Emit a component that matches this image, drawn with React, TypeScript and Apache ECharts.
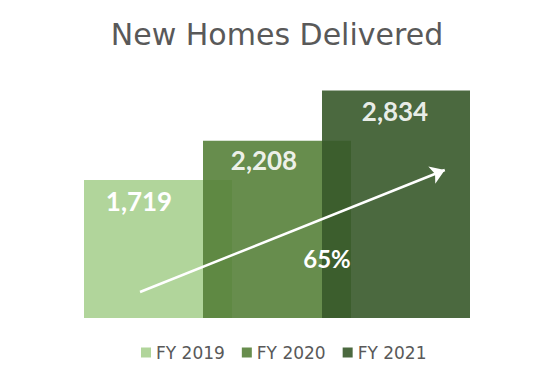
import React, { useEffect, useRef } from "react";
import * as echarts from "echarts";

const categories = ["FY 2019", "FY 2020", "FY 2021"];
const values = [1719, 2208, 2834];
const barColors = ["#b1d59b", "#56813a", "#37592a"];
const barOpacity = [1, 0.9, 0.9];
const labelOffsets = [[-19, 3], [-13, 1], [-1, 2]];
// arrow annotation in data space: [x index, value]
const arrowStart = [-0.151, 324];
const arrowEnd = [2.41, 1844];
const growthLabel = "65%";
const growthPos = [1.42, 740];

export default function App() {
  const ref = useRef<HTMLDivElement>(null);
  useEffect(() => {
    document.body.style.margin = "0";
    if (!ref.current) return;
    const chart = echarts.init(ref.current, null, { renderer: "svg" });
    const barSeries = categories.map((name, i) => ({
      name,
      type: "bar",
      xAxisIndex: 0,
      barWidth: 148,
      barGap: "-100%",
      clip: false,
      data: categories.map((_, j) => (j === i ? values[i] : null)),
      itemStyle: { color: barColors[i], opacity: barOpacity[i] },
      label: {
        show: true,
        position: "insideTop",
        offset: labelOffsets[i],
        color: "#ffffff",
        fontSize: 26,
        fontWeight: "bold",
        fontFamily: "Lato",
        formatter: (p: any) => Number(p.value).toLocaleString("en-US"),
      },
    }));
    chart.setOption({
      animation: false,
      title: {
        text: "New Homes Delivered",
        left: "center",
        top: 14,
        textStyle: { fontSize: 30, fontWeight: "normal", fontFamily: "DejaVu Sans", color: "#595959" },
      },
      legend: {
        data: categories,
        bottom: 23,
        left: 136,
        icon: "rect",
        itemWidth: 10,
        itemHeight: 10,
        itemGap: 17,
        textStyle: { fontSize: 17, fontFamily: "DejaVu Sans", color: "#595959" },
      },
      grid: { left: 98.5, width: 357, top: 77.2, bottom: 71 },
      xAxis: [
        { type: "category", data: categories, show: false },
        { type: "value", min: -0.5, max: 2.5, show: false },
      ],
      yAxis: { type: "value", min: 0, max: 3000, show: false },
      series: [
        ...barSeries,
        {
          type: "line",
          xAxisIndex: 1,
          data: [arrowStart],
          symbol: "none",
          lineStyle: { opacity: 0 },
          silent: true,
          markLine: {
            silent: true,
            symbolSize: [14, 14],
            lineStyle: { color: "#ffffff", width: 2.5, type: "solid" },
            label: { show: false },
            data: [[
              { coord: arrowStart, symbol: "none" },
              { coord: arrowEnd, symbol: "arrow" },
            ]],
          },
          markPoint: {
            silent: true,
            data: [{
              coord: growthPos,
              symbol: "circle",
              symbolSize: 0,
              label: {
                show: true,
                position: "inside",
                formatter: growthLabel,
                color: "#ffffff",
                fontSize: 24,
                fontWeight: "bold",
                fontFamily: "Lato",
              },
            }],
          },
        },
      ],
    });
    return () => chart.dispose();
  }, []);
  return <div ref={ref} style={{ width: 554, height: 389 }} />;
}
